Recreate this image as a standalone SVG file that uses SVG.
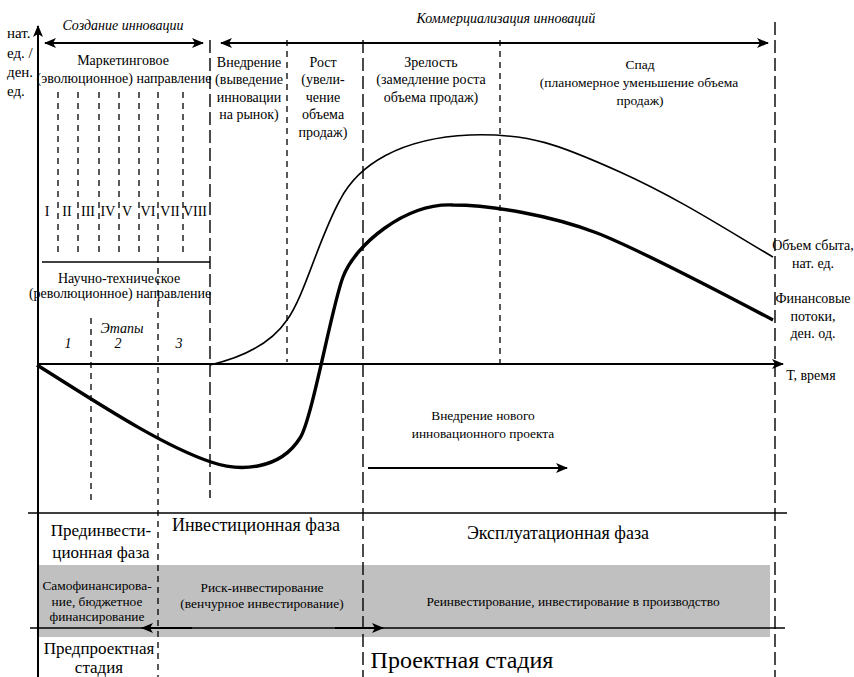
<svg xmlns="http://www.w3.org/2000/svg" width="854" height="677" viewBox="0 0 854 677">
  <style>
    text { font-family: "Liberation Serif", "Times New Roman", serif; fill: #000; }
    .t14 { font-size: 14px; }
    .t13 { font-size: 13.4px; }
    .t17 { font-size: 17px; }
    .t18 { font-size: 18px; }
    .it { font-style: italic; }
    .mid { text-anchor: middle; }
    .axis { stroke: #000; stroke-width: 2; fill: none; }
    .rule { stroke: #000; stroke-width: 1.6; fill: none; }
    .dshort { stroke: #000; stroke-width: 1.3; stroke-dasharray: 6 5; fill: none; }
    .dlong { stroke: #000; stroke-width: 1.4; stroke-dasharray: 13 5; fill: none; }
    .arrow { stroke: #000; stroke-width: 2; fill: none; }
  </style>
  <defs>
    <marker id="head" viewBox="0 0 12 10" refX="11" refY="5" markerWidth="12" markerHeight="10" markerUnits="userSpaceOnUse" orient="auto-start-reverse">
      <path d="M0,0 L12,5 L0,10 L3,5 Z" fill="#000"/>
    </marker>
  </defs>

  <rect width="854" height="677" fill="#fff"/>

  <!-- shaded financing band -->
  <rect id="finance-band" x="37" y="565" width="733" height="72" fill="#c0c0c0"/>

  <!-- phase and stage dividers -->
  <g id="dividers">
    <line class="dshort" x1="58" y1="92" x2="58" y2="254"/>
    <line class="dshort" x1="78" y1="92" x2="78" y2="254"/>
    <line class="dshort" x1="99" y1="92" x2="99" y2="254"/>
    <line class="dshort" x1="119" y1="92" x2="119" y2="254"/>
    <line class="dshort" x1="139" y1="92" x2="139" y2="254"/>
    <line class="dshort" x1="183" y1="92" x2="183" y2="254"/>
    <line class="dshort" x1="158" y1="92" x2="158" y2="677"/>
    <line class="dshort" x1="91" y1="318" x2="91" y2="503"/>
    <line class="dlong" x1="210" y1="40" x2="210" y2="498"/>
    <line class="dshort" x1="287" y1="40" x2="287" y2="362"/>
    <line class="dlong" x1="363" y1="40" x2="363" y2="677"/>
    <line class="dshort" x1="500" y1="40" x2="500" y2="364"/>
    <line class="dlong" x1="775" y1="22" x2="775" y2="677"/>
  </g>

  <!-- axes and horizontal rules -->
  <g id="axes">
    <line class="axis" x1="38" y1="677" x2="38" y2="26" marker-end="url(#head)"/>
    <line class="axis" x1="37" y1="364" x2="783" y2="364" marker-end="url(#head)"/>
    <line class="rule" x1="42" y1="262" x2="210" y2="262"/>
    <line class="rule" x1="28" y1="513" x2="787" y2="513"/>
    <line class="rule" x1="30" y1="628" x2="785" y2="628"/>
  </g>

  <!-- connectors: period arrows and flow arrows -->
  <g id="connectors">
    <line class="arrow" x1="45" y1="43" x2="203" y2="43" marker-start="url(#head)" marker-end="url(#head)"/>
    <line class="arrow" x1="221" y1="43" x2="768" y2="43" marker-start="url(#head)" marker-end="url(#head)"/>
    <line class="arrow" x1="368" y1="468" x2="567" y2="468" marker-end="url(#head)"/>
    <line class="arrow" stroke-width="2.6" x1="192" y1="628" x2="142" y2="628" marker-end="url(#head)"/>
    <line class="arrow" stroke-width="2.6" x1="335" y1="628" x2="383" y2="628" marker-end="url(#head)"/>
  </g>

  <!-- curves -->
  <g id="curves">
    <path id="sales-volume" fill="none" stroke="#000" stroke-width="1.6"
      d="M210,365 C240,358 270,345 287,320 C305,295 318,240 340,200 C358,165 400,138 470,135 C530,133 560,145 620,172 C680,199 730,232 773,257"/>
    <path id="cash-flow" fill="none" stroke="#000" stroke-width="3.4"
      d="M37,365 C90,398 160,445 211,462 C240,472 280,470 300,438 C312,420 332,305 343,277 C355,245 405,203 453,205 C490,205 550,215 597,233 C640,250 720,292 773,320"/>
  </g>

  <!-- period titles -->
  <g id="period-titles">
    <text class="t14 it mid" x="123" y="30">Создание инновации</text>
    <text class="t14 it mid" x="506" y="23">Коммерциализация инноваций</text>
  </g>

  <!-- vertical axis label -->
  <g id="y-label" style="font-size:15px">
    <text x="7" y="38">нат.</text>
    <text x="7" y="58">ед. /</text>
    <text x="7" y="77">ден.</text>
    <text x="7" y="96">ед.</text>
  </g>

  <!-- creation of innovation: directions and stages -->
  <g id="marketing">
    <text class="t14 mid" x="123" y="65">Маркетинговое</text>
    <text class="t14 mid" x="124" y="83">(эволюционное) направление</text>
  </g>
  <g id="roman-stages" class="t14 mid">
    <text x="47" y="216">I</text>
    <text x="67" y="216">II</text>
    <text x="88" y="216">III</text>
    <text x="108" y="216">IV</text>
    <text x="127" y="216">V</text>
    <text x="148" y="216">VI</text>
    <text x="170" y="216">VII</text>
    <text x="195" y="216">VIII</text>
  </g>
  <g id="scientific">
    <text class="t14 mid" x="119" y="283">Научно-техническое</text>
    <text class="t14 mid" x="120" y="298">(революционное) направление</text>
  </g>
  <g id="stages" class="t14 it mid">
    <text x="122" y="333">Этапы</text>
    <text x="68" y="348">1</text>
    <text x="118" y="348">2</text>
    <text x="179" y="348">3</text>
  </g>

  <!-- life-cycle stages -->
  <g id="stage-intro" class="t14 mid">
    <text x="249" y="67">Внедрение</text>
    <text x="249" y="84">(выведение</text>
    <text x="249" y="102">инновации</text>
    <text x="249" y="119">на рынок)</text>
  </g>
  <g id="stage-growth" class="t14 mid">
    <text x="323" y="67">Рост</text>
    <text x="323" y="84">(увели-</text>
    <text x="323" y="102">чение</text>
    <text x="323" y="119">объема</text>
    <text x="323" y="137">продаж)</text>
  </g>
  <g id="stage-maturity" class="t14 mid">
    <text x="431" y="67">Зрелость</text>
    <text x="431" y="84">(замедление роста</text>
    <text x="431" y="102">объема продаж)</text>
  </g>
  <g id="stage-decline" class="mid" style="font-size:13.5px">
    <text x="640" y="69">Спад</text>
    <text x="639" y="87">(планомерное уменьшение объема</text>
    <text x="640" y="105">продаж)</text>
  </g>

  <!-- curve and axis captions -->
  <g id="captions" class="t14 mid">
    <text x="813" y="250">Объем сбыта,</text>
    <text x="813" y="268">нат. ед.</text>
    <text x="813" y="303">Финансовые</text>
    <text x="813" y="321">потоки,</text>
    <text x="813" y="338">ден. од.</text>
    <text x="811" y="380">Т, время</text>
  </g>
  <g id="new-project" class="t13 mid">
    <text x="483" y="420">Внедрение нового</text>
    <text x="483" y="438">инновационного проекта</text>
  </g>

  <!-- phases -->
  <g id="phase-preinvest" class="t17 mid">
    <text x="101" y="536">Прединвести-</text>
    <text x="101" y="558">ционная фаза</text>
  </g>
  <g id="phase-invest">
    <text class="t18 mid" x="256" y="531">Инвестиционная фаза</text>
  </g>
  <g id="phase-operation">
    <text class="t18 mid" x="558" y="539">Эксплуатационная фаза</text>
  </g>

  <!-- financing sources -->
  <g id="fin-self" class="t13 mid">
    <text x="97" y="590">Самофинансирова-</text>
    <text x="97" y="606">ние, бюджетное</text>
    <text x="97" y="621">финансирование</text>
  </g>
  <g id="fin-venture" class="t13 mid">
    <text x="262" y="592">Риск-инвестирование</text>
    <text x="262" y="608">(венчурное инвестирование)</text>
  </g>
  <g id="fin-reinvest">
    <text class="t13 mid" x="573" y="606">Реинвестирование, инвестирование в производство</text>
  </g>

  <!-- project stages -->
  <g id="stage-preproject" class="t17 mid">
    <text x="99" y="654">Предпроектная</text>
    <text x="99" y="673">стадия</text>
  </g>
  <g id="stage-project">
    <text class="mid" style="font-size:24px" x="462" y="668">Проектная стадия</text>
  </g>
</svg>
